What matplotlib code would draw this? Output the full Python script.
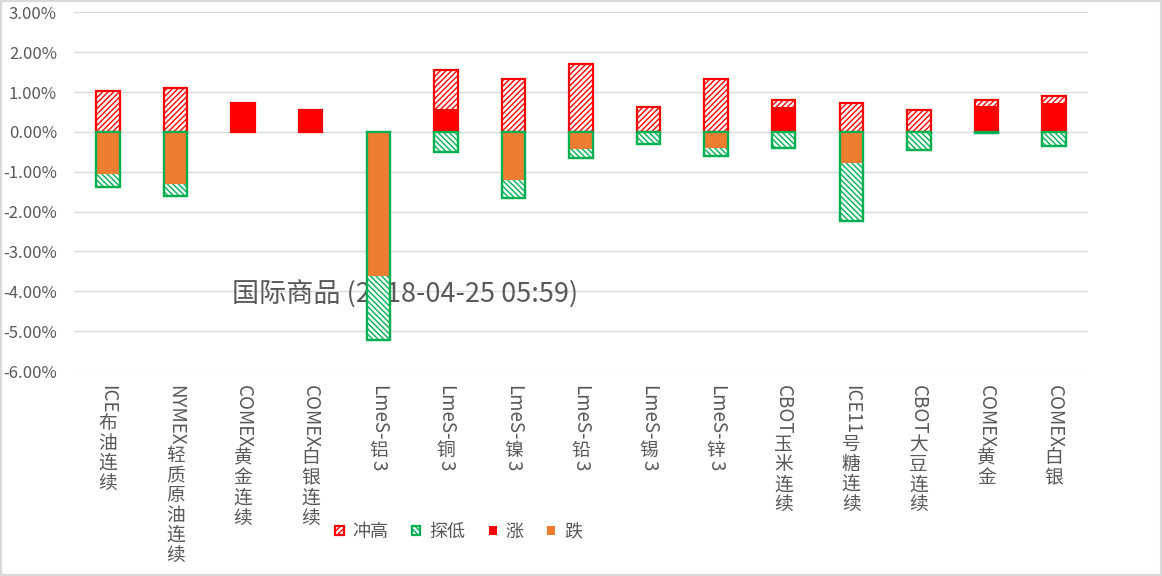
import numpy as np
import matplotlib
matplotlib.use('Agg')
import matplotlib.pyplot as plt
import matplotlib.patches as mpatches
from matplotlib.ticker import FuncFormatter

plt.rcParams['font.family'] = ['Noto Sans CJK SC', 'DejaVu Sans']
plt.rcParams['hatch.linewidth'] = 1.0

# DATA (percent)
names = ['ICE布油连续', 'NYMEX轻质原油连续', 'COMEX黄金连续', 'COMEX白银连续', 'LmeS-铝3',
         'LmeS-铜3', 'LmeS-镍3', 'LmeS-铅3', 'LmeS-锡3', 'LmeS-锌3',
         'CBOT玉米连续', 'ICE11号糖连续', 'CBOT大豆连续', 'COMEX黄金', 'COMEX白银']
high = [1.02, 1.10, 0.735, 0.56, 0.0, 1.56, 1.33, 1.71, 0.63, 1.33, 0.81, 0.73, 0.56, 0.81, 0.91]
low = [-1.38, -1.60, 0.0, 0.0, -5.21, -0.50, -1.65, -0.66, -0.30, -0.61, -0.41, -2.24, -0.45, -0.03, -0.36]
close = [-1.05, -1.31, 0.735, 0.56, -3.62, 0.585, -1.21, -0.42, 0.0, -0.41, 0.63, -0.79, 0.0, 0.64, 0.73]
title = '国际商品 (2018-04-25 05:59)'

rise = [c if c > 0 else 0 for c in close]
fall = [c if c < 0 else 0 for c in close]

RED = '#ff0000'
GREEN = '#00b050'
ORANGE = '#ed7d31'
GRAY = '#595959'

fig = plt.figure(figsize=(11.62, 5.76), dpi=100)
ax = fig.add_axes([74.2 / 1162, 1 - 371 / 576, (1087.8 - 74.2) / 1162, (371 - 12.3) / 576])

x = np.arange(len(names))
w = 0.345
lw_high = [1.6 if v != 0 else 0 for v in high]
lw_low = [1.6 if v != 0 else 0 for v in low]

b_high = ax.bar(x, high, w, color='white', edgecolor=RED, hatch='//////', linewidth=lw_high, zorder=3)
b_low = ax.bar(x, low, w, color='white', edgecolor=GREEN, hatch='\\\\\\\\\\\\', linewidth=lw_low, zorder=3)
b_rise = ax.bar(x, rise, w, color=RED, linewidth=0, zorder=4)
b_fall = ax.bar(x, fall, w, color=ORANGE, linewidth=0, zorder=4)
# outline of the low bars drawn again over the orange fill
ax.bar(x, low, w, fill=False, edgecolor=GREEN, linewidth=lw_low, zorder=5)

ax.set_xlim(-0.5, len(names) - 0.5)
ax.set_ylim(-6, 3)
ax.set_yticks(np.arange(-6, 3.01, 1))
ax.yaxis.set_major_formatter(FuncFormatter(lambda v, p: f'{v:.2f}%'))
ax.tick_params(axis='y', length=0, pad=12.5, labelsize=12, labelcolor=GRAY)
ax.set_xticks([])
ax.yaxis.grid(True, color='#d9d9d9', linewidth=0.9)
ax.set_axisbelow(True)
for s in ax.spines.values():
    s.set_visible(False)

ax.text(232 / 1162, 1 - 295 / 576, title, transform=fig.transFigure, fontsize=19.5,
        color=GRAY, va='center', ha='left', zorder=2)

# vertical category labels: latin runs turned, CJK characters upright
r = fig.canvas.get_renderer()
px = 72 / fig.dpi
cjk_step = 20
for i, name in enumerate(names):
    runs = []
    buf = ''
    for ch in name:
        if ord(ch) > 0x2E80:
            if buf:
                runs.append(buf)
                buf = ''
            runs.append(ch)
        else:
            buf += ch
    if buf:
        runs.append(buf)
    y = 14
    for run in runs:
        if ord(run[0]) > 0x2E80:
            ax.annotate(run, xy=(i, 0), xycoords=('data', 'axes fraction'),
                        xytext=(0, -(y + cjk_step / 2) * px), textcoords='offset points',
                        ha='center', va='center', fontsize=13.5, color=GRAY, annotation_clip=False)
            y += cjk_step
        else:
            t = ax.annotate(run, xy=(i, 0), xycoords=('data', 'axes fraction'),
                            xytext=(0, -y * px), textcoords='offset points',
                            ha='center', va='top', rotation=-90, fontsize=13.5, color=GRAY,
                            annotation_clip=False)
            y += t.get_window_extent(r).height

fig.legend(handles=[b_high, b_low, b_rise, b_fall], labels=['冲高', '探低', '涨', '跌'],
           loc='center', bbox_to_anchor=(459 / 1162, 1 - 532 / 576), ncol=4, frameon=False,
           fontsize=13, handlelength=0.45, handleheight=0.45, handletextpad=0.5,
           columnspacing=1.3, labelcolor=GRAY)

fig.patches.append(mpatches.Rectangle((0, 0), 1, 1, transform=fig.transFigure, fill=False,
                                      edgecolor='#d9d9d9', linewidth=3))

fig.savefig('out.png', dpi=100)
